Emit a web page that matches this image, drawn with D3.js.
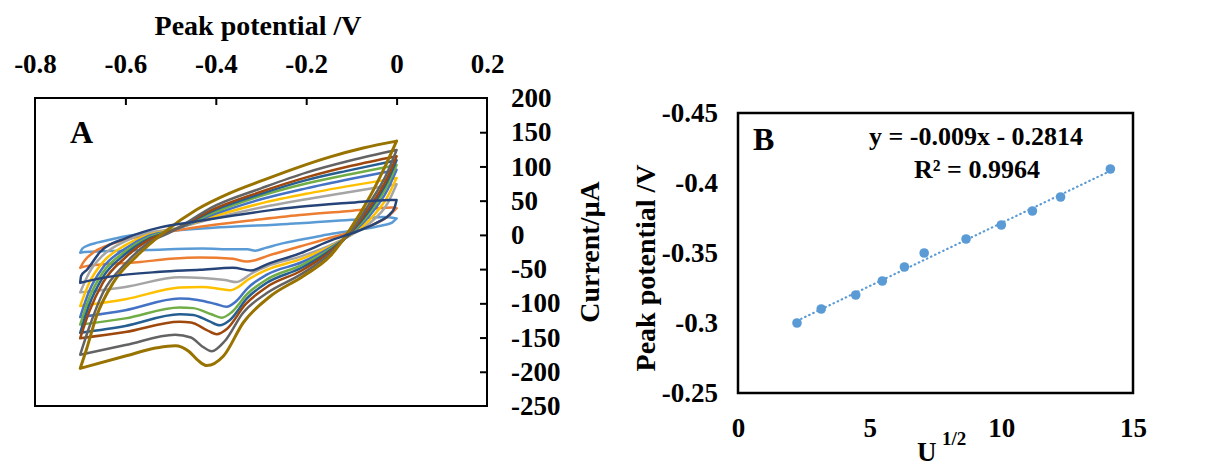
<!DOCTYPE html>
<html>
<head>
<meta charset="utf-8">
<script src="https://cdn.jsdelivr.net/npm/d3@7"></script>
<style>
  body { margin: 0; background: #fff; }
  text { font-family: "Liberation Serif", "Times New Roman", serif; font-weight: bold; fill: #000; }
</style>
</head>
<body>
<div id="chart"></div>
<script>
// ---- panel A: cyclic voltammograms, [potential V, current uA] ----
// anodic branch (-0.7 -> 0) and cathodic branch (0 -> -0.7) for each scan
var lbUp = [[-0.70,-26],[-0.695,-20],[-0.685,-16],[-0.66,-11],[-0.62,-5],[-0.59,-1],[-0.50,6],[-0.39,11],[-0.24,16],[-0.10,22],[-0.03,26],[0,24]];
var lbDown = [[0,24],[-0.01,18],[-0.03,14],[-0.06,10],[-0.10,6],[-0.14,2],[-0.18,-3],[-0.25,-12],[-0.29,-19],[-0.313,-23],[-0.33,-21],[-0.36,-21],[-0.43,-20],[-0.55,-22],[-0.65,-24],[-0.69,-25],[-0.70,-26]];

var orUp = [[-0.70,-48],[-0.692,-39],[-0.667,-24],[-0.634,-14],[-0.579,-4],[-0.501,5],[-0.435,12],[-0.324,21],[-0.214,29],[-0.103,35],[-0.01,40],[0,39]];
var orDown = [[0,39],[-0.015,29],[-0.052,15],[-0.10,4],[-0.14,-3],[-0.214,-17],[-0.287,-31],[-0.313,-37],[-0.332,-39],[-0.362,-35],[-0.435,-33],[-0.50,-35],[-0.574,-40],[-0.65,-43],[-0.689,-46],[-0.70,-48]];

var grUp = [[-0.70,-84],[-0.68,-55],[-0.65,-30],[-0.60,-9],[-0.55,3],[-0.50,8],[-0.40,25],[-0.30,40],[-0.20,52],[-0.10,63],[0,74]];
var grDown = [[0,74],[-0.02,46],[-0.06,17],[-0.10,0],[-0.15,-16],[-0.21,-31],[-0.287,-46],[-0.32,-56],[-0.34,-65],[-0.354,-69],[-0.38,-66],[-0.43,-63],[-0.48,-62],[-0.60,-76],[-0.70,-84]];

var yeUp = [[-0.70,-104],[-0.68,-70],[-0.65,-40],[-0.60,-15],[-0.55,0],[-0.50,7],[-0.40,28],[-0.30,46],[-0.20,60],[-0.10,72],[0,83]];
var yeDown = [[0,83],[-0.02,56],[-0.06,22],[-0.10,1],[-0.15,-18],[-0.21,-35],[-0.287,-51],[-0.33,-66],[-0.35,-76],[-0.369,-81],[-0.39,-79],[-0.43,-76],[-0.48,-77],[-0.60,-94],[-0.70,-104]];

var blUp = [[-0.70,-120],[-0.68,-82],[-0.65,-48],[-0.60,-20],[-0.55,-2],[-0.50,6],[-0.40,31],[-0.30,52],[-0.20,68],[-0.10,82],[0,95]];
var blDown = [[0,95],[-0.02,66],[-0.06,28],[-0.10,2],[-0.15,-20],[-0.21,-40],[-0.287,-58],[-0.33,-78],[-0.355,-97],[-0.376,-105],[-0.40,-101],[-0.44,-95],[-0.48,-93],[-0.60,-110],[-0.70,-120]];

var gnUp = [[-0.70,-131],[-0.68,-92],[-0.65,-55],[-0.60,-24],[-0.55,-4],[-0.50,6],[-0.40,34],[-0.30,57],[-0.20,75],[-0.10,89],[0,102]];
var gnDown = [[0,102],[-0.02,73],[-0.06,32],[-0.10,3],[-0.15,-22],[-0.21,-44],[-0.287,-65],[-0.33,-86],[-0.365,-113],[-0.387,-121],[-0.41,-116],[-0.45,-107],[-0.48,-106],[-0.60,-122],[-0.70,-131]];

var dbUp = [[-0.70,-143],[-0.68,-102],[-0.65,-62],[-0.60,-28],[-0.55,-6],[-0.50,5],[-0.40,37],[-0.30,60],[-0.20,80],[-0.10,95],[0,109]];
var dbDown = [[0,109],[-0.02,79],[-0.06,36],[-0.10,4],[-0.15,-24],[-0.21,-48],[-0.287,-70],[-0.33,-92],[-0.37,-125],[-0.391,-132],[-0.415,-126],[-0.45,-117],[-0.48,-116],[-0.60,-133],[-0.70,-143]];

var brUp = [[-0.70,-151],[-0.68,-112],[-0.65,-70],[-0.60,-33],[-0.55,-8],[-0.50,5],[-0.40,39],[-0.30,63],[-0.20,84],[-0.10,101],[0,115]];
var brDown = [[0,115],[-0.02,84],[-0.06,40],[-0.10,5],[-0.15,-26],[-0.21,-52],[-0.287,-76],[-0.335,-102],[-0.375,-137],[-0.398,-145],[-0.42,-139],[-0.455,-128],[-0.48,-127],[-0.60,-142],[-0.70,-151]];

var dgUp = [[-0.70,-175],[-0.68,-135],[-0.65,-85],[-0.60,-42],[-0.55,-12],[-0.50,4],[-0.40,43],[-0.30,68],[-0.20,91],[-0.10,109],[0,124]];
var dgDown = [[0,124],[-0.02,92],[-0.06,46],[-0.10,6],[-0.15,-29],[-0.21,-57],[-0.287,-85],[-0.34,-114],[-0.38,-155],[-0.409,-170],[-0.43,-163],[-0.455,-150],[-0.49,-146],[-0.60,-161],[-0.70,-175]];

var olUp = [[-0.70,-195],[-0.686,-167],[-0.664,-119],[-0.627,-70],[-0.575,-31],[-0.516,3],[-0.442,37],[-0.369,61],[-0.295,80],[-0.221,98],[-0.147,114],[-0.074,127],[0,137]];
var olDown = [[0,137],[-0.022,105],[-0.059,56],[-0.103,8],[-0.147,-31],[-0.206,-60],[-0.28,-90],[-0.339,-128],[-0.383,-177],[-0.42,-191],[-0.44,-183],[-0.46,-170],[-0.49,-162],[-0.53,-165],[-0.60,-177],[-0.70,-195]];

var nvUp = [[-0.70,-70],[-0.698,-60],[-0.685,-51],[-0.656,-25],[-0.596,-4],[-0.523,11],[-0.45,19],[-0.375,27],[-0.302,34],[-0.214,41],[-0.103,47],[-0.015,51],[0,51]];
var nvDown = [[0,51],[-0.004,41],[-0.015,30],[-0.037,20],[-0.052,15],[-0.088,5],[-0.141,-7],[-0.214,-27],[-0.287,-43],[-0.322,-52],[-0.362,-48],[-0.435,-51],[-0.523,-54],[-0.634,-61],[-0.70,-70]];

var cvColors = ["#5B9BD5", "#ED7D31", "#A5A5A5", "#FFC000", "#4472C4", "#70AD47", "#255E91", "#9E480E", "#636363", "#997300", "#264478"];

var xTicksA = [-0.8, -0.6, -0.4, -0.2, 0, 0.2];
var yTicksA = [200, 150, 100, 50, 0, -50, -100, -150, -200, -250];

// ---- panel B: peak potential vs square root of scan rate ----
var sqrtScanRate = [2.24, 3.16, 4.47, 5.48, 6.32, 7.07, 8.66, 10.0, 11.18, 12.25, 14.14];
var peakPotential = [-0.30, -0.31, -0.32, -0.33, -0.34, -0.35, -0.36, -0.37, -0.38, -0.39, -0.41];
var fitSlope = -0.009, fitIntercept = -0.2814;
var xTicksB = [0, 5, 10, 15];
var yTicksB = [-0.45, -0.4, -0.35, -0.3, -0.25];

var curves = [
  {color: cvColors[0], up: lbUp, down: lbDown},
  {color: cvColors[1], up: orUp, down: orDown},
  {color: cvColors[2], up: grUp, down: grDown},
  {color: cvColors[3], up: yeUp, down: yeDown},
  {color: cvColors[4], up: blUp, down: blDown},
  {color: cvColors[5], up: gnUp, down: gnDown},
  {color: cvColors[6], up: dbUp, down: dbDown},
  {color: cvColors[7], up: brUp, down: brDown},
  {color: cvColors[8], up: dgUp, down: dgDown},
  {color: cvColors[9], up: olUp, down: olDown},
  {color: cvColors[10], up: nvUp, down: nvDown}
];

var svg = d3.select("#chart").append("svg")
    .attr("width", 1210)
    .attr("height", 466);

svg.append("rect").attr("width", 1210).attr("height", 466).attr("fill", "#fff");

function fmt(d) { return String(+d.toFixed(2)); }

// ===== panel A =====
var xA = d3.scaleLinear().domain([-0.8, 0.2]).range([35, 487]);
var yA = d3.scaleLinear().domain([-250, 200]).range([406, 98]);

var lineA = d3.line()
    .x(function(d) { return xA(d[0]); })
    .y(function(d) { return yA(d[1]); })
    .curve(d3.curveMonotoneX);

var gA = svg.append("g");

curves.forEach(function(c, i) {
  var up = c.up.slice().sort(function(a, b) { return a[0] - b[0]; });
  var down = c.down.slice().sort(function(a, b) { return a[0] - b[0]; });
  gA.append("path")
      .attr("d", lineA(up) + lineA(down))
      .attr("fill", "none")
      .attr("stroke", c.color)
      .attr("stroke-width", i == 9 ? 3 : 2.5)
      .attr("stroke-linecap", "round")
      .attr("stroke-linejoin", "round");
});

gA.append("rect")
    .attr("x", 35).attr("y", 98)
    .attr("width", 452).attr("height", 308)
    .attr("fill", "none").attr("stroke", "#000").attr("stroke-width", 2);

// top axis labels + inward ticks
var topAxis = gA.append("g")
    .attr("transform", "translate(0,98)")
    .call(d3.axisTop(xA).tickValues(xTicksA).tickSize(0).tickPadding(25).tickFormat(fmt));
topAxis.select(".domain").remove();
topAxis.selectAll("text").style("font-size", "27px").attr("font-family", null);

var topTicks = gA.append("g")
    .attr("transform", "translate(0,98)")
    .call(d3.axisBottom(xA).tickValues([-0.6, -0.4, -0.2, 0]).tickSize(7).tickFormat(""));
topTicks.select(".domain").remove();
topTicks.selectAll("line").attr("stroke-width", 2);

// right axis labels + inward ticks
var rightAxis = gA.append("g")
    .attr("transform", "translate(487,0)")
    .call(d3.axisRight(yA).tickValues(yTicksA).tickSize(0).tickPadding(24).tickFormat(fmt));
rightAxis.select(".domain").remove();
rightAxis.selectAll("text").style("font-size", "27px").attr("font-family", null);

var rightTicks = gA.append("g")
    .attr("transform", "translate(487,0)")
    .call(d3.axisLeft(yA).tickValues(yTicksA.slice(1, -1)).tickSize(7).tickFormat(""));
rightTicks.select(".domain").remove();
rightTicks.selectAll("line").attr("stroke-width", 2);

gA.append("text")
    .attr("x", 258).attr("y", 35)
    .attr("text-anchor", "middle")
    .style("font-size", "28px")
    .text("Peak potential /V");

gA.append("text")
    .attr("transform", "translate(599,252) rotate(-90)")
    .attr("text-anchor", "middle")
    .style("font-size", "28px")
    .text("Current/µA");

gA.append("text")
    .attr("x", 70).attr("y", 143)
    .style("font-size", "32px")
    .text("A");

// ===== panel B =====
var xB = d3.scaleLinear().domain([0, 15]).range([738, 1133]);
var yB = d3.scaleLinear().domain([-0.25, -0.45]).range([393, 113]);

var gB = svg.append("g");

gB.append("rect")
    .attr("x", 738).attr("y", 113)
    .attr("width", 395).attr("height", 280)
    .attr("fill", "none").attr("stroke", "#000").attr("stroke-width", 2.5);

var bottomAxis = gB.append("g")
    .attr("transform", "translate(0,393)")
    .call(d3.axisBottom(xB).tickValues(xTicksB).tickSize(0).tickPadding(25));
bottomAxis.select(".domain").remove();
bottomAxis.selectAll("text").style("font-size", "27px").attr("font-family", null);

var leftAxis = gB.append("g")
    .attr("transform", "translate(738,0)")
    .call(d3.axisLeft(yB).tickValues(yTicksB).tickSize(0).tickPadding(20).tickFormat(fmt));
leftAxis.select(".domain").remove();
leftAxis.selectAll("text").style("font-size", "27px").attr("font-family", null);

// linear fit (dotted)
var xFit = d3.extent(sqrtScanRate);
gB.append("line")
    .attr("x1", xB(xFit[0])).attr("y1", yB(fitSlope * xFit[0] + fitIntercept))
    .attr("x2", xB(xFit[1])).attr("y2", yB(fitSlope * xFit[1] + fitIntercept))
    .attr("stroke", "#5B9BD5")
    .attr("stroke-width", 2.2)
    .attr("stroke-dasharray", "0.5,4")
    .attr("stroke-linecap", "round");

gB.selectAll("circle.pt")
    .data(sqrtScanRate)
    .enter().append("circle")
    .attr("class", "pt")
    .attr("cx", function(d) { return xB(d); })
    .attr("cy", function(d, i) { return yB(peakPotential[i]); })
    .attr("r", 4.8)
    .attr("fill", "#5B9BD5");

gB.append("text")
    .attr("x", 753).attr("y", 150)
    .style("font-size", "32px")
    .text("B");

gB.append("text")
    .attr("x", 976).attr("y", 145)
    .attr("text-anchor", "middle")
    .style("font-size", "26px")
    .text("y = -0.009x - 0.2814");

gB.append("text")
    .attr("x", 977).attr("y", 178)
    .attr("text-anchor", "middle")
    .style("font-size", "26px")
    .text("R² = 0.9964");

gB.append("text")
    .attr("transform", "translate(655,268) rotate(-90)")
    .attr("text-anchor", "middle")
    .style("font-size", "28px")
    .text("Peak potential /V");

gB.append("text")
    .attr("x", 917).attr("y", 461)
    .style("font-size", "27px")
    .text("U");
gB.append("text")
    .attr("x", 942).attr("y", 445)
    .style("font-size", "19px")
    .text("1/2");
</script>
</body>
</html>
